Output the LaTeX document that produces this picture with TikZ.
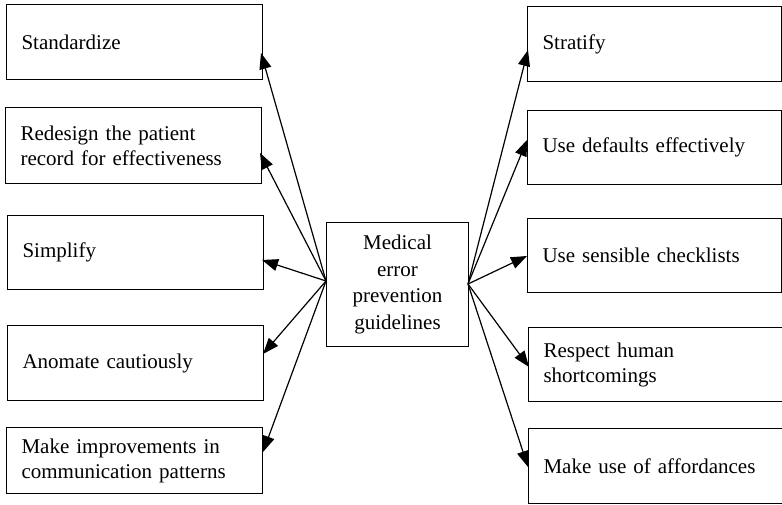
\documentclass[tikz,border=0pt]{standalone}
\usepackage{fontspec}
\setmainfont{Liberation Serif}
\usetikzlibrary{arrows.meta}
\begin{document}
\begin{tikzpicture}[x=1pt,y=-1pt,
  box/.style={draw, line width=1.1pt, anchor=north west, inner xsep=15pt, inner ysep=0pt,
    font=\fontsize{21}{25}\selectfont},
  lbox/.style={box, align=left, text width=226pt, minimum height=#1},
  rbox/.style={box, align=left, text width=224pt, minimum height=#1},
  cbox/.style={box, align=center, text width=112pt, minimum height=124pt, font=\fontsize{21}{26.5}\selectfont},
  link/.style={line width=1.2pt, -{Triangle[length=16pt,width=12pt]}}]
\useasboundingbox (0,0) rectangle (782,505);

\node[lbox=75pt] (L1) at (6,4) {Standardize};
\node[lbox=76pt] (L2) at (5,107) {Redesign the patient\\record for effectiveness};
\node[lbox=74pt] (L3) at (7,215) {Simplify};
\node[lbox=75pt] (L4) at (7,325) {Anomate cautiously};
\node[lbox=66pt] (L5) at (6,427) {Make improvements in\\communication patterns};

\node[rbox=75pt] (R1) at (527,6) {Stratify};
\node[rbox=74pt] (R2) at (527,110) {Use defaults effectively};
\node[rbox=74pt] (R3) at (527,218) {Use sensible checklists};
\node[rbox=74pt] (R4) at (528,327) {Respect human\\shortcomings};
\node[rbox=75pt] (R5) at (528,428) {Make use of affordances};

\node[cbox] (C) at (326,222) {Medical\\error\\prevention\\guidelines};

\coordinate (cl) at (326,281);
\coordinate (cr) at (468,284);

\coordinate (tL1) at (261,53);
\coordinate (tL2) at (260,153);
\coordinate (tL3) at (262,260);
\coordinate (tL4) at (263,354);
\coordinate (tL5) at (263,452);
\coordinate (tR1) at (528,50);
\coordinate (tR2) at (527,140);
\coordinate (tR3) at (527,256);
\coordinate (tR4) at (529,367);
\coordinate (tR5) at (528,467);

\foreach \t in {tL1,tL2,tL3,tL4,tL5} \draw[link] (cl) -- (\t);
\foreach \t in {tR1,tR2,tR3,tR4,tR5} \draw[link] (cr) -- (\t);
\end{tikzpicture}
\end{document}
